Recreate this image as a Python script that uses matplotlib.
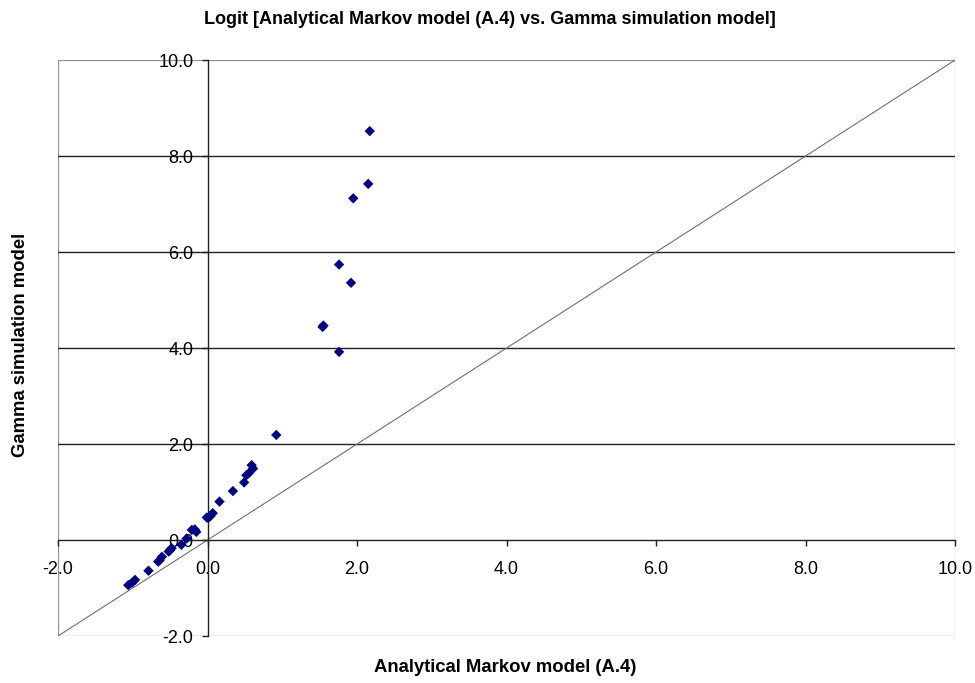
import matplotlib
matplotlib.use("Agg")
import matplotlib.pyplot as plt
from matplotlib.patches import Rectangle

plt.rcParams["font.family"] = ["Liberation Sans", "DejaVu Sans"]

# Logit values
x_vals = [2.17, 2.15, 1.95, 1.76, 1.92, 1.54, 1.55, 1.76, 0.92,
          0.59, 0.61, 0.55, 0.52, 0.49, 0.34, 0.16,
          0.07, 0.04, 0.01, -0.01,
          -0.17, -0.21, -0.15, -0.28, -0.35,
          -0.48, -0.50, -0.52, -0.61, -0.64, -0.66,
          -0.79, -0.97, -1.01, -1.06]
y_vals = [8.52, 7.42, 7.12, 5.74, 5.36, 4.44, 4.47, 3.92, 2.19,
          1.56, 1.49, 1.39, 1.35, 1.20, 1.02, 0.80,
          0.56, 0.50, 0.46, 0.47,
          0.22, 0.21, 0.17, 0.03, -0.10,
          -0.17, -0.21, -0.24, -0.35, -0.42, -0.45,
          -0.64, -0.83, -0.89, -0.94]

ticks = [-2, 0, 2, 4, 6, 8, 10]

fig = plt.figure(figsize=(9.75, 6.83), dpi=100)
ax = fig.add_axes([0.0595, 0.0688, 0.92, 0.8432])

ax.set_xlim(-2, 10)
ax.set_ylim(-2, 10)

# horizontal gridlines
for t in [2, 4, 6, 8]:
    ax.axhline(t, color="#202020", lw=1.0, zorder=1)

# y = x reference line
ax.plot([-2, 10], [-2, 10], color="#707070", lw=0.8, zorder=2)

ax.scatter(x_vals, y_vals, marker="D", s=28, color="#000080",
           edgecolors="none", zorder=4)

# axes crossing at zero, Excel style
ax.spines["left"].set_position(("data", 0))
ax.spines["bottom"].set_position(("data", 0))
for s in ["left", "bottom"]:
    ax.spines[s].set_color("#202020")
    ax.spines[s].set_linewidth(1.0)
    ax.spines[s].set_zorder(3)
for s in ["top", "right"]:
    ax.spines[s].set_visible(False)
ax.add_patch(Rectangle((0, 0), 1, 1, transform=ax.transAxes, fill=False,
                       edgecolor="#909090", lw=0.9, zorder=0))

ax.set_xticks(ticks)
ax.set_yticks(ticks)
ax.set_xticklabels([f"{t:.1f}" for t in ticks])
ax.set_yticklabels([f"{t:.1f}" for t in ticks])
ax.tick_params(axis="both", direction="out", length=4, width=1,
               color="#202020", labelsize=13)
ax.tick_params(axis="x", pad=11)
ax.tick_params(axis="y", pad=6)

fig.text(0.502, 0.984, "Logit [Analytical Markov model (A.4) vs. Gamma simulation model]",
         ha="center", va="top", fontsize=13, fontweight="bold")
fig.text(0.518, 0.023, "Analytical Markov model (A.4)", ha="center",
         va="center", fontsize=13.3, fontweight="bold")
fig.text(0.021, 0.495, "Gamma simulation model", ha="center", va="center",
         rotation=90, fontsize=13.3, fontweight="bold")

fig.savefig("out.png", dpi=100)
